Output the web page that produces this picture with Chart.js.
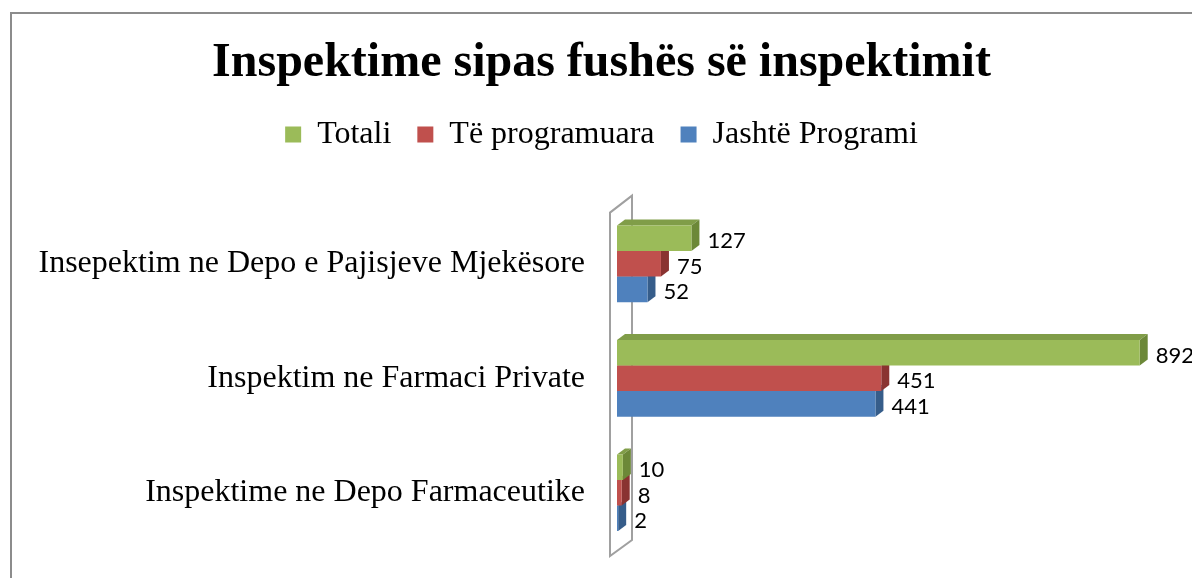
<!DOCTYPE html>
<html>
<head>
<meta charset="utf-8">
<script src="https://cdn.jsdelivr.net/npm/chart.js@4"></script>
<style>
  html, body { margin: 0; padding: 0; background: #fff; }
  #wrap { position: relative; width: 1192px; height: 578px; overflow: hidden; }
  #frame { position: absolute; left: 10px; top: 12px; width: 1300px; height: 700px; border: 2px solid #8c8c8c; box-sizing: border-box; }
  #box { position: absolute; left: 0; top: 0; width: 1210px; height: 578px; }
</style>
</head>
<body>
<div id="wrap">
  <div id="frame"></div>
  <div id="box"><canvas id="c"></canvas></div>
</div>
<script>
// data
const categories = [
  'Insepektim ne Depo e Pajisjeve Mjekësore',
  'Inspektim ne Farmaci Private',
  'Inspektime ne Depo Farmaceutike'
];
const totali = [127, 892, 10];
const programuara = [75, 451, 8];
const jashteProgrami = [52, 441, 2];
const seriesNames = ['Totali', 'Të programuara', 'Jashtë Programi'];

// front, top, side colours per series
const faceColors = [
  ['#9bbb59', '#809d48', '#6c8838'],
  ['#c0504d', '#a03e3b', '#8a3331'],
  ['#4f81bd', '#3f6c9f', '#365d8a']
];
const DX = 8, DY = 6;
const serif = '"Liberation Serif", "Times New Roman", serif';

// 3d faces + back wall, drawn under the front rectangles
const bar3d = {
  id: 'bar3d',
  beforeDatasetsDraw(chart) {
    const ctx = chart.ctx;
    const area = chart.chartArea;
    // the little wall on the left
    ctx.save();
    ctx.strokeStyle = '#a0a0a0';
    ctx.lineWidth = 2;
    ctx.beginPath();
    ctx.moveTo(area.left - 7, area.bottom + 6);
    ctx.lineTo(area.left - 7, area.top + 6);
    ctx.lineTo(area.left + 15, area.top - 11);
    ctx.lineTo(area.left + 15, area.bottom - 10);
    ctx.closePath();
    ctx.stroke();
    ctx.restore();

    for (let d = chart.data.datasets.length - 1; d >= 0; d--) {
      const meta = chart.getDatasetMeta(d);
      const cols = faceColors[d];
      meta.data.forEach(bar => {
        const x0 = bar.base, x1 = bar.x;
        const yt = bar.y - bar.height / 2, yb = bar.y + bar.height / 2;
        ctx.save();
        // top face
        ctx.fillStyle = cols[1];
        ctx.beginPath();
        ctx.moveTo(x0, yt);
        ctx.lineTo(x0 + DX, yt - DY);
        ctx.lineTo(x1 + DX, yt - DY);
        ctx.lineTo(x1, yt);
        ctx.closePath();
        ctx.fill();
        // side face
        ctx.fillStyle = cols[2];
        ctx.beginPath();
        ctx.moveTo(x1, yt);
        ctx.lineTo(x1 + DX, yt - DY);
        ctx.lineTo(x1 + DX, yb - DY);
        ctx.lineTo(x1, yb);
        ctx.closePath();
        ctx.fill();
        ctx.restore();
      });
    }
  },
  afterDatasetsDraw(chart) {
    const ctx = chart.ctx;
    ctx.save();
    ctx.font = '22px Lato, "Open Sans", sans-serif';
    ctx.fillStyle = '#000';
    ctx.textBaseline = 'middle';
    ctx.textAlign = 'left';
    chart.data.datasets.forEach((ds, d) => {
      chart.getDatasetMeta(d).data.forEach((bar, i) => {
        ctx.fillText(String(ds.data[i]), bar.x + 16, bar.y + 3);
      });
    });
    ctx.restore();
  }
};

const seriesData = [totali, programuara, jashteProgrami];

new Chart(document.getElementById('c'), {
  type: 'bar',
  data: {
    labels: categories,
    datasets: seriesNames.map((name, i) => ({
      label: name,
      data: seriesData[i],
      backgroundColor: faceColors[i][0],
      borderWidth: 0,
      categoryPercentage: 0.67,
      barPercentage: 1
    }))
  },
  options: {
    indexAxis: 'y',
    responsive: true,
    maintainAspectRatio: false,
    animation: false,
    layout: { padding: { top: 10, right: 7, bottom: 28, left: 0 } },
    plugins: {
      title: {
        display: true,
        text: 'Inspektime sipas fushës së inspektimit',
        color: '#000',
        font: { family: serif, size: 48, weight: 'bold' },
        padding: { top: 25, bottom: 0 }
      },
      legend: {
        position: 'top',
        labels: {
          color: '#000',
          font: { family: serif, size: 32 },
          boxWidth: 16,
          boxHeight: 16,
          padding: 26
        }
      },
      tooltip: { enabled: false }
    },
    scales: {
      x: {
        position: 'top',
        min: 0,
        max: 1000,
        grid: { display: false },
        border: { display: false },
        ticks: { display: false },
        afterFit(scale) { scale.height = 46; }
      },
      y: {
        grid: { display: false },
        border: { display: false },
        ticks: {
          color: '#000',
          padding: 24,
          font: { family: serif, size: 32 }
        },
        afterFit(scale) {
          scale.width = 617;
          scale.paddingTop = 0;
          scale.paddingBottom = 0;
        }
      }
    }
  },
  plugins: [bar3d]
});
</script>
</body>
</html>
